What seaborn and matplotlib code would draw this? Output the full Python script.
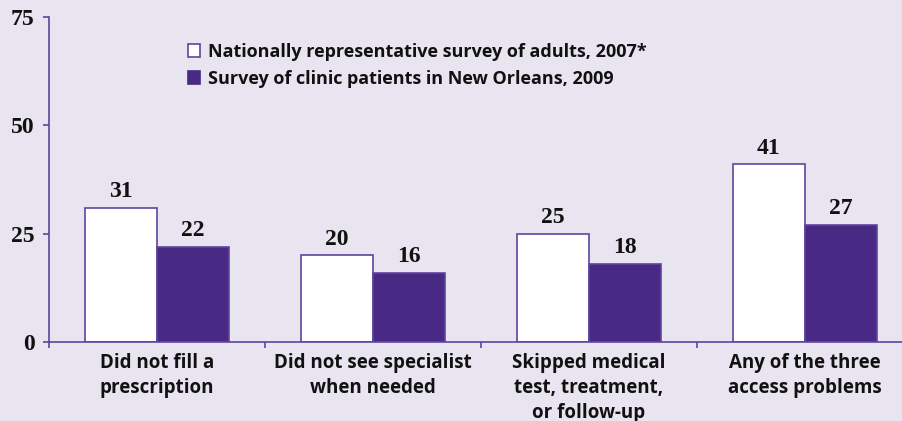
import matplotlib
matplotlib.use("Agg")
import matplotlib.pyplot as plt
from matplotlib.patches import Patch
import seaborn as sns
import pandas as pd

categories = ["Did not fill a\nprescription",
              "Did not see specialist\nwhen needed",
              "Skipped medical\ntest, treatment,\nor follow-up",
              "Any of the three\naccess problems"]
series = ["Nationally representative survey of adults, 2007*",
          "Survey of clinic patients in New Orleans, 2009"]
national = [31, 20, 25, 41]
new_orleans = [22, 16, 18, 27]
yticks = [0, 25, 50, 75]

df = pd.DataFrame({
    "category": categories * 2,
    "series": [series[0]] * len(categories) + [series[1]] * len(categories),
    "value": national + new_orleans,
})

BG = "#E8E4F0"
PURPLE = "#482983"
EDGE = "#5E45A0"
SANS = ["Open Sans", "DejaVu Sans"]
SERIF = ["Liberation Serif", "DejaVu Serif"]

sns.set_theme(style="white")
plt.rcParams["font.family"] = SANS

fig = plt.figure(figsize=(9.02, 4.21), dpi=100, facecolor=BG)
ax = fig.add_axes([49 / 902, 79 / 421, 1 - 49 / 902, 325 / 421])
ax.set_facecolor(BG)

sns.barplot(data=df, x="category", y="value", hue="series",
            order=categories, hue_order=series,
            palette=["white", PURPLE], saturation=1,
            width=0.667, gap=0, edgecolor=EDGE, linewidth=1.2,
            legend=False, ax=ax)

for cont in ax.containers:
    ax.bar_label(cont, fmt="%d", padding=4, fontsize=17,
                 fontweight="bold", family=SERIF, color="#111111")

ax.set_xlim(-0.5, 3.45)
ax.set_ylim(0, 75)
ax.set_xlabel("")
ax.set_ylabel("")

for s in ["top", "right"]:
    ax.spines[s].set_visible(False)
for s in ["left", "bottom"]:
    ax.spines[s].set_color(EDGE)
    ax.spines[s].set_linewidth(1.2)

ax.set_yticks(yticks)
ax.set_yticklabels([str(v) for v in yticks], fontsize=17,
                   fontweight="bold", family=SERIF, color="#111111")
ax.tick_params(axis="y", direction="out", length=4.5, width=1.2,
               color=EDGE, pad=6, left=True)

ax.set_xticks(range(len(categories)))
ax.set_xticklabels(categories, fontsize=13.5, fontweight="bold",
                   family=SANS, color="#111111", linespacing=1.32)
ax.tick_params(axis="x", which="major", length=0, pad=8)
ax.set_xticks([-0.5, 0.5, 1.5, 2.5], minor=True)
ax.tick_params(axis="x", which="minor", direction="out", length=4,
               width=1.2, color=EDGE, bottom=True)

handles = [Patch(facecolor="white", edgecolor=EDGE, linewidth=1.2),
           Patch(facecolor=PURPLE, edgecolor=PURPLE, linewidth=1.2)]
leg = fig.legend(handles, series, loc="upper left",
                 bbox_to_anchor=(188 / 902, 1 - 43 / 421),
                 borderaxespad=0, borderpad=0,
                 frameon=False, handlelength=0.68, handleheight=0.68,
                 handletextpad=0.45, labelspacing=0.5,
                 prop={"family": SANS, "weight": "bold", "size": 13})
for t in leg.get_texts():
    t.set_color("#111111")

fig.savefig("out.png", dpi=100, facecolor=BG)
